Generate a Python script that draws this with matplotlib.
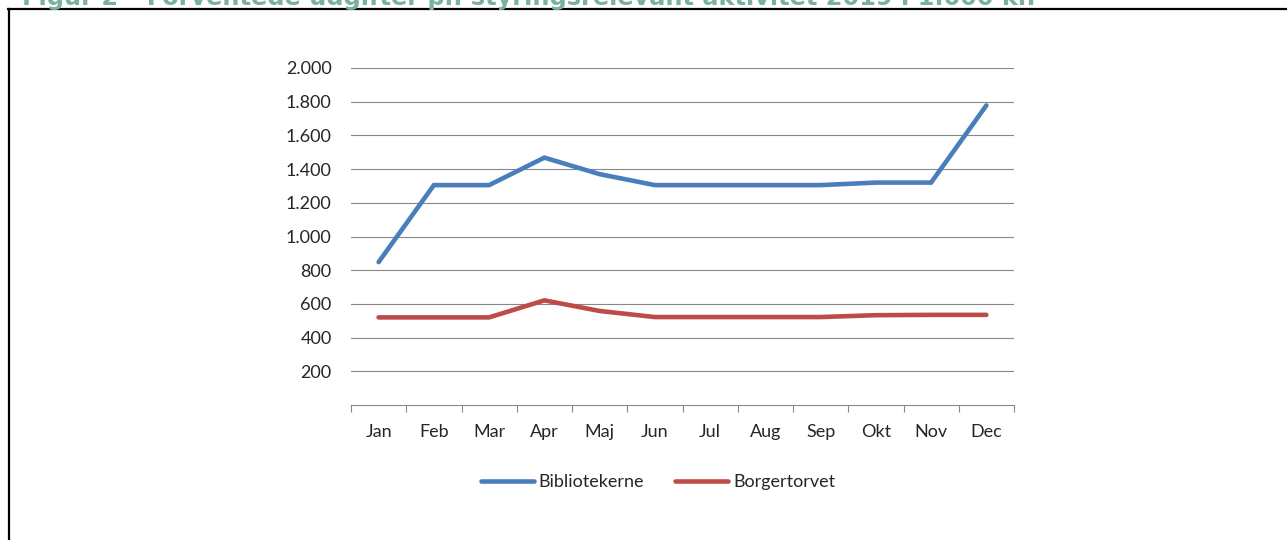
#!/usr/bin/env python3
"""Figur 2 - forventede udgifter pr. styringsrelevant aktivitet 2019 (1.000 kr.)."""

import matplotlib
matplotlib.use("Agg")
import matplotlib.pyplot as plt
from matplotlib.lines import Line2D
import numpy as np

# ── Data ───────────────────────────────────────────────────────────────────

MONTHS = ["Jan", "Feb", "Mar", "Apr", "Maj", "Jun",
          "Jul", "Aug", "Sep", "Okt", "Nov", "Dec"]
BIBLIOTEKERNE = [848, 1305, 1305, 1468, 1370, 1305,
                 1305, 1305, 1305, 1320, 1320, 1778]
BORGERTORVET = [520, 520, 520, 621, 558, 522,
                522, 522, 522, 533, 535, 535]
Y_TICKS = [200, 400, 600, 800, 1000, 1200, 1400, 1600, 1800, 2000]
TITLE = "Figur 2 \u2013 Forventede udgifter pr. styringsrelevant aktivitet 2019 i 1.000 kr."

# ── Style ──────────────────────────────────────────────────────────────────

BLUE = "#4a7ebb"
RED = "#be4b48"
GRID = "#878787"
TEXT = "#262626"
TITLE_COLOR = "#7ab19b"
FS = 13
W, H = 1287, 540

plt.rcParams["font.family"] = ["Lato", "DejaVu Sans"]

fig = plt.figure(figsize=(W / 100, H / 100), dpi=100)
ax = fig.add_axes([351 / W, 1 - 405 / H, (1014 - 351) / W, (405 - 68) / H])

x = np.arange(len(MONTHS))
ax.plot(x, BIBLIOTEKERNE, color=BLUE, linewidth=3.3, solid_capstyle="round",
        solid_joinstyle="miter", zorder=3)
ax.plot(x, BORGERTORVET, color=RED, linewidth=3.3, solid_capstyle="round",
        solid_joinstyle="miter", zorder=3)

ax.set_xlim(-0.5, len(MONTHS) - 0.5)
ax.set_ylim(0, 2000)
ax.set_yticks(Y_TICKS)
ax.set_yticklabels([f"{v:,}".replace(",", ".") for v in Y_TICKS])
ax.set_xticks(x)
ax.set_xticklabels(MONTHS)
ax.set_xticks(np.arange(-0.5, len(MONTHS)), minor=True)

ax.yaxis.grid(True, color=GRID, linewidth=0.8, zorder=0)
ax.set_axisbelow(True)
for side in ("top", "right", "left"):
    ax.spines[side].set_visible(False)
ax.spines["bottom"].set_color(GRID)
ax.spines["bottom"].set_linewidth(0.8)

ax.tick_params(axis="y", length=0, pad=14, labelsize=FS, labelcolor=TEXT)
ax.tick_params(axis="x", which="major", length=0, pad=14, labelsize=FS,
               labelcolor=TEXT)
ax.tick_params(axis="x", which="minor", length=5, width=0.8, color=GRID)

# Legend below the plot
handles = [Line2D([], [], color=BLUE, linewidth=3.3, solid_capstyle="round"),
           Line2D([], [], color=RED, linewidth=3.3, solid_capstyle="round")]
leg = fig.legend(handles, ["Bibliotekerne", "Borgertorvet"], ncol=2,
                 loc="center", bbox_to_anchor=(658 / W, 1 - 482 / H),
                 frameon=False, fontsize=FS, handlelength=2.95,
                 handletextpad=0.28, columnspacing=1.7)
for t in leg.get_texts():
    t.set_color(TEXT)

# Frame around the figure (top and left edge visible)
fig.add_artist(Line2D([9 / W, 9 / W], [0, 1 - 9 / H], transform=fig.transFigure,
                      color="black", linewidth=1.6))
fig.add_artist(Line2D([8 / W, 1], [1 - 9 / H, 1 - 9 / H], transform=fig.transFigure,
                      color="black", linewidth=1.6))

# Title, cropped at the top edge as in the source document
title = fig.text(22 / W, 1 - 5 / H, TITLE, fontsize=14, fontweight="bold",
                 color=TITLE_COLOR, family="DejaVu Sans", va="baseline", ha="left")
renderer = fig.canvas.get_renderer()
width_px = title.get_window_extent(renderer).width
title.set_fontsize(14 * (1013 / width_px))

fig.savefig("out.png", dpi=100)
